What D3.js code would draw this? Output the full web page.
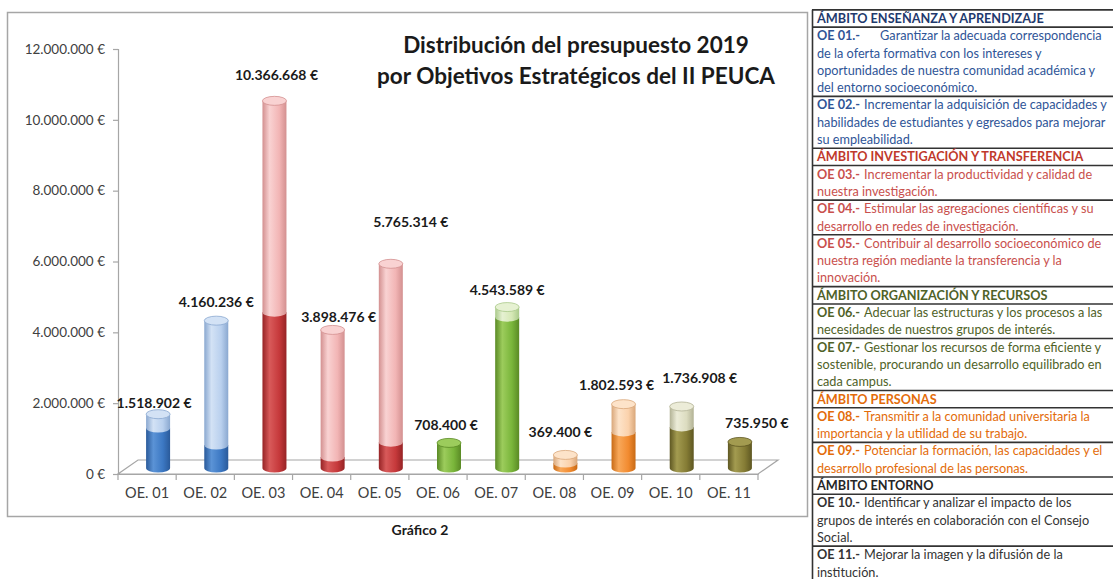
<!DOCTYPE html>
<html>
<head>
<meta charset="utf-8">
<script src="https://cdn.jsdelivr.net/npm/d3@7"></script>
<style>
  body { margin: 0; background: #fff; }
  svg { font-family: Lato, "Open Sans", sans-serif; display: block; }
  .tick text { fill: #404040; }
</style>
</head>
<body>
<div id="chart"></div>
<script>
// Data
const categories = ['OE. 01', 'OE. 02', 'OE. 03', 'OE. 04', 'OE. 05', 'OE. 06', 'OE. 07', 'OE. 08', 'OE. 09', 'OE. 10', 'OE. 11'];
const totals = [1518902, 4160236, 10366668, 3898476, 5765314, 708400, 4543589, 369400, 1802593, 1736908, 735950];
const darkPart = [1130000, 650000, 4400000, 310000, 730000, 708400, 4260000, 140000, 1020000, 1160000, 735950];
const ambitos = ['ens', 'ens', 'inv', 'inv', 'inv', 'org', 'org', 'per', 'per', 'ent', 'ent'];
const yTicks = [0, 2000000, 4000000, 6000000, 8000000, 10000000, 12000000];

// Label nudges (dx, dy from bar top) as placed in the original
const labelNudge = [[-4, -11], [0, -19], [2, -26], [6, -13], [20, -42], [-3, -18], [0, -17], [-5, -23], [-7, -19], [18, -28], [17, -19]];

const palette = {
  ens: { dark: ['#2a5a9a', '#5b93d6', '#3c78c3'], light: ['#8aa8d0', '#d3e2f5', '#b9d0ee'] },
  inv: { dark: ['#962325', '#d85a5a', '#c6393b'], light: ['#d39090', '#f9d2d2', '#f2b5b5'] },
  org: { dark: ['#5a8a25', '#9ccc5c', '#79b53a'], light: ['#a9c98a', '#e6f1d2', '#d5e8b5'] },
  per: { dark: ['#c86a15', '#f8a85a', '#f28b30'], light: ['#d9a77a', '#fde3c9', '#fbd2ac'] },
  ent: { dark: ['#5e5722', '#a39b50', '#857c35'], light: ['#b2b295', '#ececd8', '#dcdcc0'] }
};

const panelRows = [
  { head: true, color: '#1f3a6e', lines: ['ÁMBITO ENSEÑANZA Y APRENDIZAJE'] },
  { color: '#2f5597', code: 'OE 01.-', gap: 20, lines: ['Garantizar la adecuada correspondencia', 'de la oferta formativa con los intereses y', 'oportunidades de nuestra comunidad académica y', 'del entorno socioeconómico.'] },
  { color: '#2f5597', code: 'OE 02.-', lines: ['Incrementar la adquisición de capacidades y', 'habilidades de estudiantes y egresados para mejorar', 'su empleabilidad.'] },
  { head: true, color: '#c0392b', lines: ['ÁMBITO INVESTIGACIÓN Y TRANSFERENCIA'] },
  { color: '#c9504d', code: 'OE 03.-', lines: ['Incrementar la productividad y calidad de', 'nuestra investigación.'] },
  { color: '#c9504d', code: 'OE 04.-', lines: ['Estimular las agregaciones científicas y su', 'desarrollo en redes de investigación.'] },
  { color: '#c9504d', code: 'OE 05.-', lines: ['Contribuir al desarrollo socioeconómico de', 'nuestra región mediante la transferencia y la', 'innovación.'] },
  { head: true, color: '#4f6228', lines: ['ÁMBITO ORGANIZACIÓN Y RECURSOS'] },
  { color: '#4f6228', code: 'OE 06.-', lines: ['Adecuar las estructuras y los procesos a las', 'necesidades de nuestros grupos de interés.'] },
  { color: '#4f6228', code: 'OE 07.-', lines: ['Gestionar los recursos de forma eficiente y', 'sostenible, procurando un desarrollo equilibrado en', 'cada campus.'] },
  { head: true, color: '#e36c0a', lines: ['ÁMBITO PERSONAS'] },
  { color: '#e36c0a', code: 'OE 08.-', lines: ['Transmitir a la comunidad universitaria la', 'importancia y la utilidad de su trabajo.'] },
  { color: '#e36c0a', code: 'OE 09.-', lines: ['Potenciar la formación, las capacidades y el', 'desarrollo profesional de las personas.'] },
  { head: true, color: '#262626', lines: ['ÁMBITO ENTORNO'] },
  { color: '#333333', code: 'OE 10.-', lines: ['Identificar y analizar el impacto de los', 'grupos de interés en colaboración con el Consejo', 'Social.'] },
  { color: '#333333', code: 'OE 11.-', lines: ['Mejorar la imagen y la difusión de la', 'institución.'] }
];

const W = 1113, H = 579;
const margin = { top: 49, left: 118 };
const plotW = 640, plotH = 425;
const depth = { dx: 20, dy: -14 };   // floor depth
const barR = 12, barRy = 4.5;

const locale = d3.formatLocale({ decimal: ',', thousands: '.', grouping: [3], currency: ['', ' €'] });
const fmt = locale.format('$,.0f');

const svg = d3.select('#chart').append('svg')
    .attr('width', W)
    .attr('height', H);

const defs = svg.append('defs');

// Horizontal shading gradients for the cylinders
Object.entries(palette).forEach(([key, p]) => {
  ['dark', 'light'].forEach(tone => {
    const [edge, hi, base] = p[tone];
    const g = defs.append('linearGradient')
        .attr('id', `g-${key}-${tone}`)
        .attr('x1', 0).attr('x2', 1).attr('y1', 0).attr('y2', 0);
    g.append('stop').attr('offset', '0%').attr('stop-color', edge);
    g.append('stop').attr('offset', '30%').attr('stop-color', hi);
    g.append('stop').attr('offset', '70%').attr('stop-color', base);
    g.append('stop').attr('offset', '100%').attr('stop-color', edge);
  });
});

// Chart frame
svg.append('rect')
    .attr('x', 7.5).attr('y', 12.5)
    .attr('width', 800).attr('height', 504)
    .attr('fill', '#fff')
    .attr('stroke', '#a6a6a6')
    .attr('stroke-width', 1.5);

const plotArea = svg.append('g')
    .attr('transform', `translate(${margin.left}, ${margin.top})`);

const x = d3.scaleBand()
    .domain(categories)
    .range([0, plotW]);

const y = d3.scaleLinear()
    .domain([0, 12000000])
    .range([plotH, 0]);

// Floor of the 3D plot
plotArea.append('path')
    .attr('d', `M0,${plotH} L${plotW},${plotH} L${plotW + depth.dx},${plotH + depth.dy} L${depth.dx},${plotH + depth.dy} Z`)
    .attr('fill', 'none')
    .attr('stroke', '#a6a6a6')
    .attr('stroke-width', 1.2);

// Axes
const yAxisGroup = plotArea.append('g')
    .call(d3.axisLeft(y).tickValues(yTicks).tickFormat(fmt).tickSize(5).tickPadding(8));
const xAxisGroup = plotArea.append('g')
    .attr('transform', `translate(0, ${plotH})`)
    .call(d3.axisBottom(x).tickSize(0).tickPadding(14));

yAxisGroup.selectAll('.domain, .tick line').attr('stroke', '#a6a6a6').attr('stroke-width', 1.2);
yAxisGroup.selectAll('text').attr('font-size', 13.5).attr('font-family', 'Lato');
xAxisGroup.select('.domain').attr('stroke', '#a6a6a6').attr('stroke-width', 1.2);
xAxisGroup.selectAll('text').attr('font-size', 14.5).attr('fill', '#404040').attr('font-family', 'Lato');

// tick marks between categories
xAxisGroup.selectAll('line.sep')
  .data(d3.range(categories.length + 1))
  .join('line')
    .attr('class', 'sep')
    .attr('x1', i => i * x.step()).attr('x2', i => i * x.step())
    .attr('y1', 0).attr('y2', 6)
    .attr('stroke', '#a6a6a6')
    .attr('stroke-width', 1.2);

// Cylinders: two stacked segments per category
const cx = i => x(categories[i]) + x.bandwidth() / 2 + depth.dx / 2 + 1;
const cy = v => y(v) + depth.dy / 2 + 1;

const bodyPath = (c, yTop, yBot) =>
  `M${c - barR},${yTop} L${c - barR},${yBot} A${barR},${barRy} 0 0 0 ${c + barR},${yBot} L${c + barR},${yTop} Z`;

const bars = plotArea.append('g')
  .selectAll('g')
  .data(categories.map((c, i) => ({ c, i, total: totals[i], dark: darkPart[i], amb: ambitos[i] })))
  .join('g');

bars.append('path')
    .attr('d', d => bodyPath(cx(d.i), cy(d.dark), cy(0)))
    .attr('fill', d => `url(#g-${d.amb}-dark)`);

bars.filter(d => d.total > d.dark)
  .append('path')
    .attr('d', d => bodyPath(cx(d.i), cy(d.total), cy(d.dark)))
    .attr('fill', d => `url(#g-${d.amb}-light)`);

bars.append('ellipse')
    .attr('cx', d => cx(d.i))
    .attr('cy', d => cy(d.total))
    .attr('rx', barR)
    .attr('ry', barRy)
    .attr('fill', d => palette[d.amb][d.total > d.dark ? 'light' : 'dark'][1])
    .attr('stroke', d => palette[d.amb][d.total > d.dark ? 'light' : 'dark'][0])
    .attr('stroke-width', 0.8);

// Value labels
bars.append('text')
    .attr('x', d => cx(d.i) + labelNudge[d.i][0])
    .attr('y', d => cy(d.total) + labelNudge[d.i][1] + 5)
    .attr('text-anchor', 'middle')
    .attr('font-size', 14)
    .attr('font-weight', 'bold')
    .attr('fill', '#1a1a1a')
    .text(d => fmt(d.total));

// Titles
svg.append('text')
    .attr('text-anchor', 'middle')
    .attr('font-size', 22.5)
    .attr('font-weight', 'bold')
    .attr('fill', '#1a1a1a')
  .selectAll('tspan')
  .data(['Distribución del presupuesto 2019', 'por Objetivos Estratégicos del II PEUCA'])
  .join('tspan')
    .attr('x', 576)
    .attr('y', (d, i) => 53 + i * 31)
    .text(d => d);

svg.append('text')
    .attr('x', 420).attr('y', 535)
    .attr('text-anchor', 'middle')
    .attr('font-size', 14)
    .attr('font-weight', 'bold')
    .attr('fill', '#1a1a1a')
    .text('Gráfico 2');

// Objectives table on the right
const panel = svg.append('g').attr('transform', 'translate(812, 0)');
const lineH = 17.3, firstLine = 18.5, textX = 5;

let lineIdx = 0;
panelRows.forEach(row => {
  const rowTop = firstLine + lineIdx * lineH - lineH / 2;
  panel.append('line')
      .attr('x1', 0).attr('x2', 310)
      .attr('y1', rowTop).attr('y2', rowTop)
      .attr('stroke', '#333').attr('stroke-width', 1.6);
  row.lines.forEach((ln, k) => {
    const t = panel.append('text')
        .attr('x', textX)
        .attr('y', firstLine + (lineIdx + k) * lineH + 4.4)
        .attr('font-size', 12.7)
        .attr('fill', row.color);
    if (row.head) {
      t.attr('font-weight', 'bold').text(ln);
    } else if (k === 0) {
      t.append('tspan').attr('font-weight', 'bold').text(row.code);
      t.append('tspan').attr('dx', row.gap || 4).text(ln);
    } else {
      t.text(ln);
    }
  });
  lineIdx += row.lines.length;
});

panel.append('line')
    .attr('x1', 0.5).attr('x2', 0.5)
    .attr('y1', firstLine - lineH / 2).attr('y2', H)
    .attr('stroke', '#333').attr('stroke-width', 1.6);
</script>
</body>
</html>
